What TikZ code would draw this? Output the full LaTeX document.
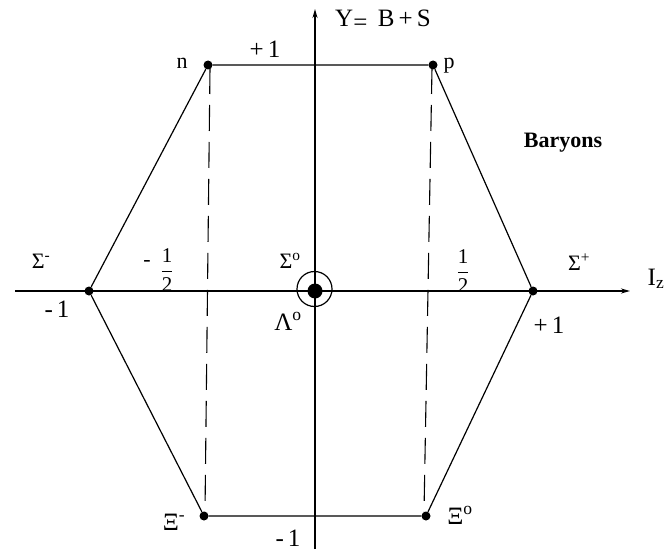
\documentclass[tikz,border=0pt]{standalone}
\usepackage{amsmath}
\usepackage{fontspec}
\setmainfont{Liberation Serif}
\usetikzlibrary{arrows.meta}
\begin{document}
\begin{tikzpicture}[x=1pt,y=-1pt,
  dot/.style={circle,fill=black,inner sep=0pt,minimum size=9pt},
  lbl/.style={font=\fontsize{22}{24}\selectfont,inner sep=0pt,anchor=base},
  big/.style={font=\fontsize{25}{27}\selectfont},
  frac/.style={font=\fontsize{21}{23}\selectfont,inner sep=0pt},
  edge/.style={line width=1.2pt},
  axis/.style={line width=1.5pt,-{Stealth[length=9pt,width=5pt]}},
  guide/.style={line width=1.1pt,dash pattern=on 26pt off 11pt}]
\useasboundingbox (0,0) rectangle (669,551);
% axes
\coordinate (xl) at (15,291);
\coordinate (xr) at (630,291);
\coordinate (yb) at (315,549);
\coordinate (yt) at (315,9);
\draw[axis] (xl) -- (xr);
\draw[axis] (yb) -- (yt);
% vertices
\node[dot] (n) at (208,65) {};
\node[dot] (p) at (433,65) {};
\node[dot] (sm) at (89,291) {};
\node[dot] (sp) at (533,291) {};
\node[dot] (xim) at (204,516) {};
\node[dot] (xi0) at (426,516) {};
\node[dot,minimum size=15pt] (c) at (315,291) {};
\node[draw,circle,line width=1.2pt,inner sep=0pt,minimum size=35pt] (cr) at (314.5,289) {};
% hexagon
\draw[edge] (n) -- (p) -- (sp) -- (xi0) -- (xim) -- (sm) -- (n);
% dashed guides
\coordinate (dl1) at (210,68);
\coordinate (dl2) at (205,512);
\coordinate (dr1) at (432,68);
\coordinate (dr2) at (424,512);
\draw[guide] (dl1) -- (dl2);
\draw[guide] (dr1) -- (dr2);
% labels
\node[lbl,big] (ylab) at (383,27) {Y\raisebox{-4pt}{=}\, B\,+\,S};
\node[lbl,big] (ptop) at (265,58) {+\,1};
\node[lbl] (nl) at (182,68) {n};
\node[lbl] (pl) at (449,68) {p};
\node[lbl,font=\fontsize{22}{24}\selectfont\bfseries] (bar) at (563,147) {Baryons};
\node[lbl] (sml) at (41,268) {Σ\textsuperscript{-}};
\node[lbl] (mhm) at (147,266) {-};
\node[frac] (hl) at (167,270) {$\dfrac{\text{1}}{\text{2}}$};
\node[lbl] (s0l) at (290,268) {Σ\textsuperscript{o}};
\node[frac] (hr) at (463,271) {$\dfrac{\text{1}}{\text{2}}$};
\node[lbl] (spl) at (579,270) {Σ\textsuperscript{+}};
\node[lbl,big] (iz) at (656,285) {I\textsubscript{z}};
\node[lbl,big] (m1l) at (57,317) {-\,1};
\node[lbl,big] (lam) at (288,330) {Λ\textsuperscript{o}};
\node[lbl,big] (p1r) at (549,333) {+\,1};
\node[lbl,big] (ximl) at (174,530) {Ξ\textsuperscript{-}};
\node[lbl,big] (xi0l) at (460,524) {Ξ\textsuperscript{o}};
\node[lbl,big] (m1b) at (288,546) {-\,1};
\end{tikzpicture}
\end{document}
